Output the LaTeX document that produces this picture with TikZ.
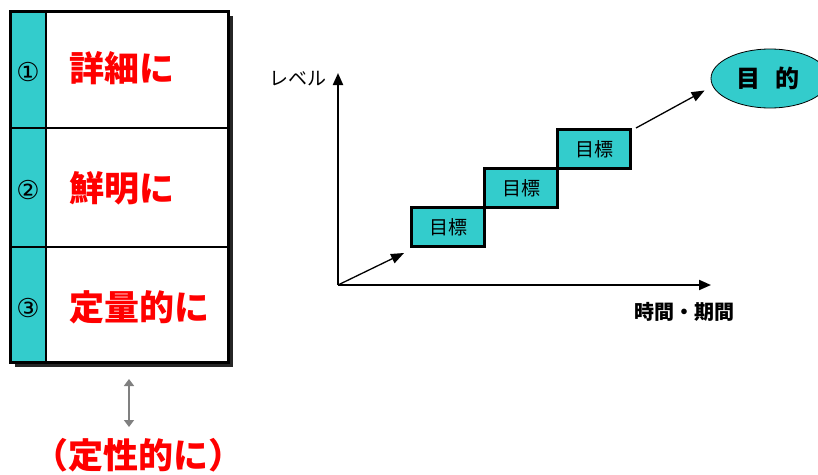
\documentclass[tikz,border=0pt]{standalone}
\usepackage{fontspec}
\setmainfont{Liberation Sans}
\newfontfamily\jp{Noto Sans CJK JP}
\newfontfamily\dv{DejaVu Sans}
\usetikzlibrary{arrows.meta,shapes.geometric,calc}
\definecolor{teal1}{HTML}{33CCCC}
\definecolor{red1}{HTML}{FF0000}
\tikzset{
  redtxt/.style={font=\jp\bfseries\fontsize{35}{40}\selectfont, text=red1, inner sep=0pt},
  numtxt/.style={font=\dv\fontsize{26}{30}\selectfont, inner sep=0pt},
  goalbox/.style={draw=black, line width=3pt, fill=teal1, minimum width=73pt, minimum height=39pt, inner sep=0pt, font=\jp\fontsize{19}{22}\selectfont},
  axis/.style={line width=2pt, -{Triangle[length=12pt,width=10pt]}},
  arr/.style={line width=1.3pt, -{Triangle[length=13pt,width=10pt]}},
  lbl/.style={font=\jp\bfseries\fontsize{20}{24}\selectfont, inner sep=0pt},
}
\begin{document}
\begin{tikzpicture}[x=1pt,y=-1pt]
\useasboundingbox (0,0) rectangle (818,474);
\clip (0,0) rectangle (818,474);
% ---- left table ----
\fill[black!85] (15,16) rectangle (233,367);
\fill[white] (10,11) rectangle (228,362);
\fill[teal1] (10,11) rectangle (46,362);
\draw[line width=2pt] (46,11) -- (46,362);
\draw[line width=2pt] (10,128) -- (228,128);
\draw[line width=2pt] (10,247) -- (228,247);
\draw[line width=3pt] (10,11) rectangle (228,362);
\node[numtxt] (n1) at (28,72) {①};
\node[numtxt] (n2) at (28,190) {②};
\node[numtxt] (n3) at (28,308) {③};
\node[redtxt, anchor=west] (t1) at (69,68) {詳細に};
\node[redtxt, anchor=west] (t2) at (69,188) {鮮明に};
\node[redtxt, anchor=west] (t3) at (69,307) {定量的に};
% double arrow
\coordinate (da1) at (129,379);
\coordinate (da2) at (129,427);
\draw[black!50, line width=1.6pt, {Triangle[length=7pt,width=10pt]}-{Triangle[length=7pt,width=10pt]}] (da1) -- (da2);
\node[redtxt] (t4) at (138,455) {（定性的に）};
% ---- right chart ----
\coordinate (O) at (338,285);
\coordinate (Y) at (338,73);
\coordinate (X) at (711,285);
\draw[axis] (O) -- (Y);
\draw[axis] (O) -- (X);
\node[font=\jp\fontsize{19}{22}\selectfont, inner sep=0pt] (ly) at (298,79) {レベル};
\node[lbl] (lx) at (684,312) {時間・期間};
\node[goalbox, anchor=north west] (b1) at (410,206) {目標};
\node[goalbox, anchor=north west] (b2) at (483,167) {目標};
\node[goalbox, anchor=north west] (b3) at (556,128) {目標};
\node[ellipse, draw=black, line width=0.8pt, fill=teal1, minimum width=118pt, minimum height=59pt, inner sep=0pt] (goal) at (770,78.5) {};
\node[font=\jp\bfseries\fontsize{24}{28}\selectfont, inner sep=0pt] at (768,78.5) {目\hspace{16pt}的};
\draw[arr] (O) -- ($(b1.south west)+(-6,5)$);
\draw[arr] ($(b3.north east)+(4,0)$) -- ($(goal.west)+(-6,12)$);
\end{tikzpicture}
\end{document}
